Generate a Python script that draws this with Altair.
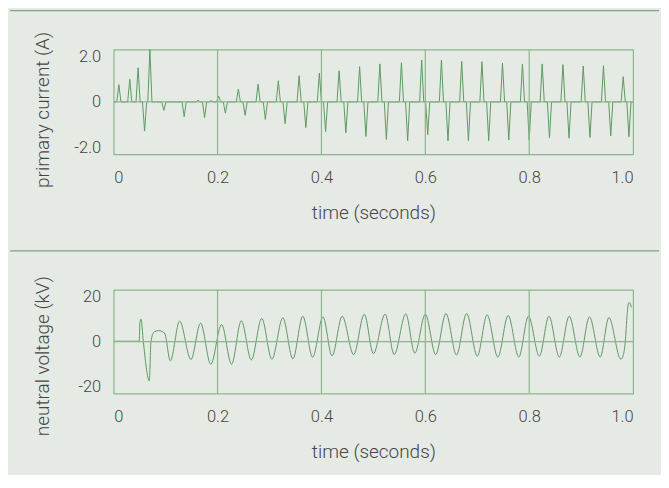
import altair as alt
import pandas as pd

# ---------------- data ----------------
# primary current: spike times (s) and spike peaks (A)
spike_t = [0.010, 0.031, 0.047, 0.0595, 0.0697, 0.0966, 0.1357, 0.1625, 0.175, 0.188,
           0.202, 0.215, 0.240, 0.253, 0.278, 0.292, 0.317, 0.330, 0.357, 0.370,
           0.396, 0.408, 0.434, 0.447, 0.4735, 0.4856, 0.5125, 0.525, 0.554, 0.566,
           0.593, 0.6046, 0.631, 0.6436, 0.670, 0.683, 0.709, 0.722, 0.7486, 0.7607,
           0.787, 0.800, 0.825, 0.839, 0.865, 0.8766, 0.904, 0.917, 0.943, 0.957,
           0.981, 0.992]
spike_a = [0.76, 0.99, 1.50, -1.28, 2.30, -0.37, -0.65, 0.07, -0.69, 0.06,
           0.26, -0.49, 0.56, -0.59, 0.78, -0.77, 0.93, -0.96, 1.15, -1.13,
           1.27, -1.30, 1.37, -1.36, 1.55, -1.52, 1.67, -1.65, 1.72, -1.71,
           1.84, -1.44, 1.84, -1.71, 1.78, -1.71, 1.77, -1.71, 1.71, -1.67,
           1.67, -1.67, 1.67, -1.58, 1.64, -1.59, 1.58, -1.56, 1.59, -1.49,
           1.11, -1.53]
spike_half_width = 0.004

# neutral voltage: key points of the trace (s, kV)
volt_t = [0.000, 0.0492, 0.0505, 0.0526, 0.0571, 0.0686, 0.0718, 0.078, 0.086, 0.093,
          0.0987, 0.109, 0.127, 0.1487, 0.1673, 0.187, 0.2077, 0.227, 0.2457, 0.265,
          0.285, 0.3046, 0.3257, 0.345, 0.3641, 0.383, 0.403, 0.4204, 0.440, 0.462,
          0.4825, 0.500, 0.5226, 0.540, 0.5624, 0.5797, 0.600, 0.620, 0.6397, 0.660,
          0.6795, 0.700, 0.719, 0.7396, 0.7595, 0.780, 0.7985, 0.8196, 0.838, 0.858,
          0.877, 0.8977, 0.916, 0.9367, 0.9534, 0.9764, 0.981, 0.985, 0.9885, 0.9917,
          0.9945, 0.9965]
volt_v = [0.2, 0.2, 8.5, 10.0, 0.0, -17.4, 0.0, 4.4, 4.9, 4.6,
          3.4, -8.5, 9.1, -7.9, 8.2, -10.0, 7.6, -10.0, 9.3, -8.1,
          10.3, -7.8, 10.6, -7.6, 11.3, -6.9, 11.0, -6.3, 11.3, -5.7,
          12.2, -5.3, 12.2, -5.7, 12.3, -5.1, 12.2, -5.7, 12.5, -5.9,
          12.5, -6.4, 11.9, -6.8, 11.6, -6.8, 11.3, -6.4, 11.3, -6.8,
          11.3, -6.8, 11.0, -6.8, 10.7, -7.8, -6.0, 0.0, 12.0, 17.3,
          17.0, 15.2]

grid_t = [0.2, 0.4, 0.6, 0.8]
x_ticks = [0, 0.2, 0.4, 0.6, 0.8, 1.0]
cur_ticks = [-2, 0, 2]
volt_ticks = [-20, 0, 20]

# ---------------- tables ----------------
cur_rows = [(0.0, 0.0)]
for t, a in zip(spike_t, spike_a):
    cur_rows += [(t - spike_half_width, 0.0), (t, a), (t + spike_half_width, 0.0)]
cur_rows.append((1.0, 0.0))
cur_df = pd.DataFrame(cur_rows, columns=["t", "v"])
volt_df = pd.DataFrame({"t": volt_t, "v": volt_v})
grid_df = pd.DataFrame({"t": grid_t})
zero_df = pd.DataFrame({"v": [0]})
one = pd.DataFrame({"a": [0]})

FRAME = "#8db58d"
LINE = "#5e9962"
SEP = "#7fa37f"
TEXT = "#454545"
FONT = "Roboto"

W, H1, H2 = 521, 105, 104

x_scale = alt.Scale(domain=[0, 1.0], nice=False, zero=False)


def panel(df, ydom, yticks, ytitle, ylabel_expr, h, title_y, top_extra, bottom_extra, interp):
    y_scale = alt.Scale(domain=ydom, nice=False, zero=False)
    xaxis = alt.Axis(values=x_ticks, title="time (seconds)",
                     labelExpr="datum.value == 0 ? '0' : format(datum.value, '.1f')",
                     labelPadding=15, titleY=58, titleBaseline="middle")
    yaxis = alt.Axis(values=yticks, title=ytitle, labelExpr=ylabel_expr,
                     labelPadding=13, titleX=-71, titleY=title_y,
                     titleBaseline="middle", titleAlign="center", titleAngle=270)
    line = alt.Chart(df).mark_line(color=LINE, strokeWidth=1, interpolate=interp, clip=True).encode(
        x=alt.X("t:Q", scale=x_scale, axis=xaxis),
        y=alt.Y("v:Q", scale=y_scale, axis=yaxis),
    )
    grid = alt.Chart(grid_df).mark_rule(color=FRAME, strokeWidth=1.2).encode(
        x=alt.X("t:Q", scale=x_scale, axis=xaxis)
    )
    zero = alt.Chart(zero_df).mark_rule(color=FRAME, strokeWidth=1.2).encode(
        y=alt.Y("v:Q", scale=y_scale, axis=yaxis)
    )
    layers = [line, grid, zero]
    if top_extra is not None:
        layers.append(alt.Chart(one).mark_rule(color=SEP, strokeWidth=1.2).encode(
            x=alt.value(-104), x2=alt.value(547), y=alt.value(top_extra)))
    if bottom_extra is not None:
        layers.append(alt.Chart(one).mark_rule(color=SEP, strokeWidth=1, opacity=0).encode(
            x=alt.value(-104), x2=alt.value(547), y=alt.value(bottom_extra)))
    return alt.layer(*layers).properties(width=W, height=h)


cur_label = ("datum.value == 0 ? '0' : (datum.value < 0 ? '-' : '') + "
             "format(abs(datum.value), '.1f')")
volt_label = "(datum.value < 0 ? '-' : '') + format(abs(datum.value), 'd')"

top = panel(cur_df, [-2.3, 2.3], cur_ticks, "primary current (A)", cur_label,
            H1, 60, -39, 199, "linear")
bot = panel(volt_df, [-23, 23], volt_ticks, "neutral voltage (kV)", volt_label,
            H2, 66, -39, 184, "monotone")

chart = alt.vconcat(top, bot, spacing=0).properties(padding=0).configure(
    background="#e5eae4"
).configure_view(
    stroke=FRAME, strokeWidth=1.2
).configure_axis(
    domain=False, ticks=False, tickSize=0, grid=False,
    labelFont=FONT, labelFontSize=16.5, labelColor=TEXT, labelFontWeight=300,
    titleFont=FONT, titleFontSize=19, titleColor=TEXT, titleFontWeight=300,
)

chart.save("out.html", embed_options={"renderer": "svg", "actions": False})
